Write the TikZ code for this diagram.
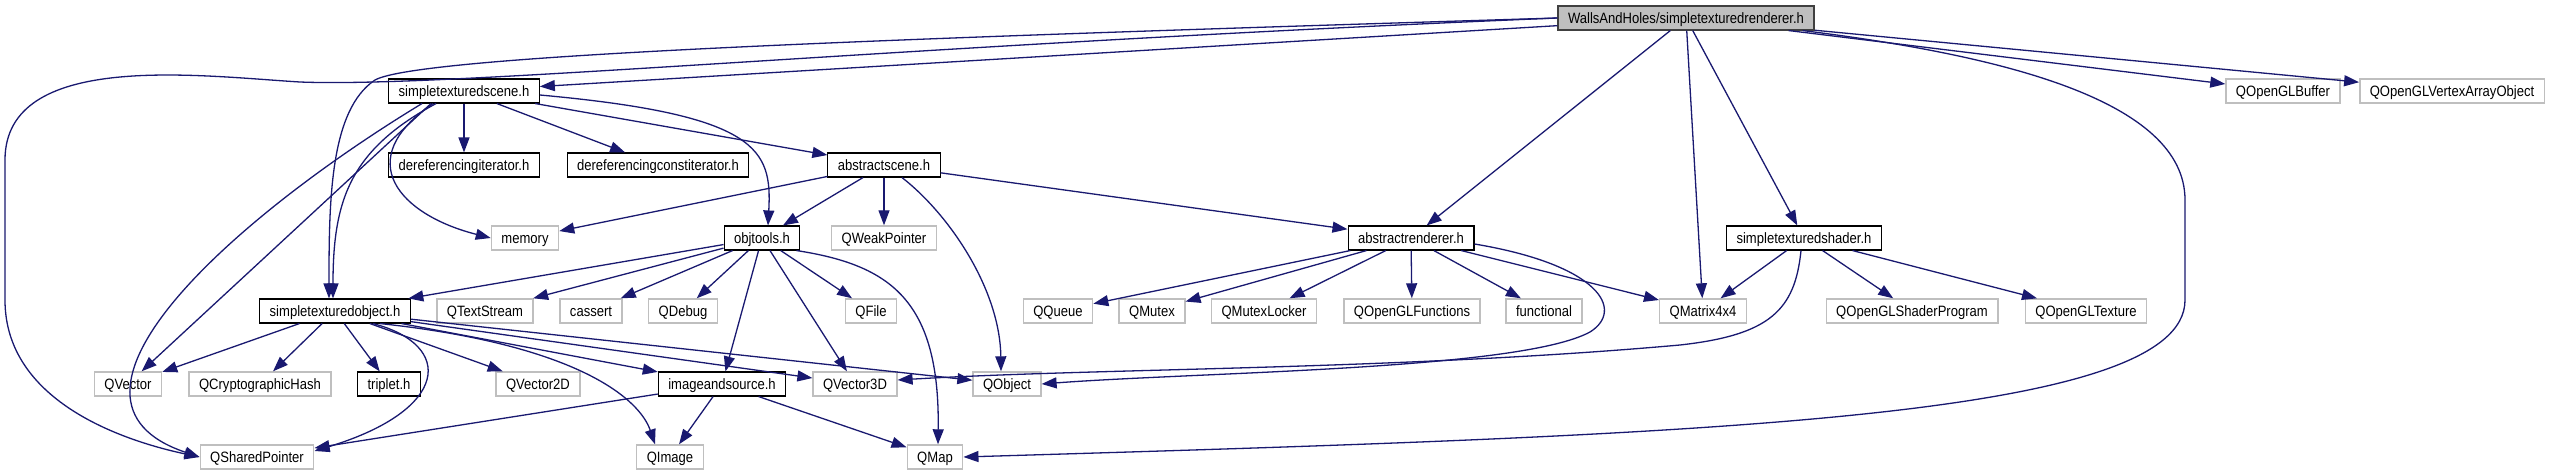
\documentclass[tikz,border=0pt]{standalone}
\usepackage{fontspec}
\newfontfamily\dotfont{Liberation Sans}[FakeStretch=0.87]
\usetikzlibrary{arrows.meta}
\definecolor{edgeblue}{RGB}{25,25,112}
\definecolor{boxgray}{RGB}{191,191,191}
\definecolor{rootline}{RGB}{64,64,64}

\begin{document}
\begin{tikzpicture}[x=1pt,y=-1pt,
	box/.style={rectangle,draw,line width=1.1pt,minimum height=24pt,inner xsep=10pt,inner ysep=0pt,
		text height=12.5pt,text depth=1.6pt,font={\dotfont\fontsize{15}{17}\selectfont}},
	doc/.style={box,draw=black},
	ext/.style={box,draw=boxgray,line width=1.4pt},
	rootbox/.style={box,draw=rootline,fill=boxgray},
	edge/.style={color=edgeblue,line width=1.3pt,-{Triangle[length=15pt,width=11pt]}}]
	\path[use as bounding box,fill=white] (0,0) rectangle (2560,476);
	% files of the project
	\node[rootbox] (root) at (1686,18) {WallsAndHoles/simpletexturedrenderer.h};
	\node[doc] (scene)    at (464,91)  {simpletexturedscene.h};
	\node[doc] (derefit)  at (464,165) {dereferencingiterator.h};
	\node[doc] (derefcit) at (658,165) {dereferencingconstiterator.h};
	\node[doc] (absscene) at (884,165) {abstractscene.h};
	\node[doc] (objtools) at (762,238) {objtools.h};
	\node[doc] (absrend)  at (1411,238) {abstractrenderer.h};
	\node[doc] (shader)   at (1804,238) {simpletexturedshader.h};
	\node[doc] (texobj)   at (335,311) {simpletexturedobject.h};
	\node[doc] (triplet)  at (389,384) {triplet.h};
	\node[doc] (imgsrc)   at (722,384) {imageandsource.h};
	% outside headers
	\node[ext] (qglbuffer)    at (2283,91)  {QOpenGLBuffer};
	\node[ext] (qglvao)       at (2452,91)  {QOpenGLVertexArrayObject};
	\node[ext] (memory)       at (525,238)  {memory};
	\node[ext] (qweakptr)     at (884,238)  {QWeakPointer};
	\node[ext] (qtextstream)  at (485,311)  {QTextStream};
	\node[ext] (cassert)      at (591,311)  {cassert};
	\node[ext] (qdebug)       at (683,311)  {QDebug};
	\node[ext] (qfile)        at (871,311)  {QFile};
	\node[ext] (qqueue)       at (1058,311) {QQueue};
	\node[ext] (qmutex)       at (1152,311) {QMutex};
	\node[ext] (qmutexlocker) at (1264,311) {QMutexLocker};
	\node[ext] (qglfuncs)     at (1412,311) {QOpenGLFunctions};
	\node[ext] (functional)   at (1544,311) {functional};
	\node[ext] (qmatrix)      at (1703,311) {QMatrix4x4};
	\node[ext] (qshaderprog)  at (1912,311) {QOpenGLShaderProgram};
	\node[ext] (qgltexture)   at (2086,311) {QOpenGLTexture};
	\node[ext] (qvector)      at (128,384)  {QVector};
	\node[ext] (qcrypto)      at (260,384)  {QCryptographicHash};
	\node[ext] (qvector2d)    at (538,384)  {QVector2D};
	\node[ext] (qvector3d)    at (855,384)  {QVector3D};
	\node[ext] (qobject)      at (1007,384) {QObject};
	\node[ext] (qsharedptr)   at (257,457)  {QSharedPointer};
	\node[ext] (qimage)       at (670,457)  {QImage};
	\node[ext] (qmap)         at (935,457)  {QMap};
	% includes of simpletexturedrenderer.h
	\draw[edge] (root) -- (scene);
	\draw[edge] (root.west) .. controls (900,38) and (420,55) .. (375,80) .. controls (330,110) and (329,200) .. ([xshift=-6pt]texobj.north);
	\draw[edge] (root.west) .. controls (900,45) and (450,88) .. (300,82) .. controls (200,76) and (5,50) .. (5,160) -- (5,300) .. controls (5,400) and (120,440) .. (qsharedptr.west);
	\draw[edge] (root) -- (absrend);
	\draw[edge] (root) -- (qmatrix);
	\draw[edge] (root) -- (shader);
	\draw[edge] ([xshift=-12pt]root.south east) .. controls (2000,55) and (2185,100) .. (2185,200) -- (2185,300) .. controls (2185,420) and (1700,435) .. (qmap.east);
	\draw[edge] (root) -- (qglbuffer);
	\draw[edge] (root) -- (qglvao);
	% simpletexturedscene.h
	\draw[edge] (scene) -- (derefit);
	\draw[edge] (scene) -- (derefcit);
	\draw[edge] (scene) -- (absscene);
	\draw[edge] ([yshift=-4pt]scene.east) .. controls (760,115) and (772,150) .. ([xshift=6pt]objtools.north);
	\draw[edge] ([xshift=-31pt]scene.south) .. controls (350,160) and (400,215) .. (memory.west);
	\draw[edge] ([xshift=-28pt]scene.south) .. controls (350,150) and (333,200) .. ([xshift=-2pt]texobj.north);
	\draw[edge] ([xshift=-33pt]scene.south) -- (qvector);
	\draw[edge] ([xshift=-42pt]scene.south) .. controls (230,220) and (30,400) .. (qsharedptr.west);
	% abstractscene.h
	\draw[edge] (absscene) -- (memory);
	\draw[edge] (absscene) -- (objtools);
	\draw[edge] (absscene) -- (qweakptr);
	\draw[edge] ([xshift=18pt]absscene.south) .. controls (950,215) and (1000,290) .. ([xshift=-6pt]qobject.north);
	\draw[edge] (absscene) -- (absrend);
	% objtools.h
	\draw[edge] (objtools) -- (texobj);
	\draw[edge] (objtools) -- (qtextstream);
	\draw[edge] (objtools) -- (cassert);
	\draw[edge] (objtools) -- (qdebug);
	\draw[edge] (objtools) -- (imgsrc);
	\draw[edge] (objtools) -- (qvector3d);
	\draw[edge] (objtools) -- (qfile);
	\draw[edge] ([xshift=-4pt]objtools.south east) .. controls (890,265) and (940,300) .. ([xshift=3pt]qmap.north);
	% abstractrenderer.h
	\draw[edge] (absrend) -- (qqueue);
	\draw[edge] (absrend) -- (qmutex);
	\draw[edge] (absrend) -- (qmutexlocker);
	\draw[edge] (absrend) -- (qglfuncs);
	\draw[edge] (absrend) -- (functional);
	\draw[edge] (absrend) -- (qmatrix);
	\draw[edge] ([yshift=-6pt]absrend.east) .. controls (1600,265) and (1625,310) .. (1590,332) .. controls (1520,370) and (1200,372) .. (qobject.east);
	% simpletexturedshader.h
	\draw[edge] (shader) -- (qmatrix);
	\draw[edge] (shader) -- (qshaderprog);
	\draw[edge] (shader) -- (qgltexture);
	\draw[edge] ([xshift=-3pt]shader.south) .. controls (1795,310) and (1770,335) .. (1680,345) .. controls (1400,370) and (1100,368) .. ([yshift=4pt]qvector3d.east);
	% simpletexturedobject.h
	\draw[edge] (texobj) -- (qvector);
	\draw[edge] (texobj) -- (qcrypto);
	\draw[edge] (texobj) -- (triplet);
	\draw[edge] (texobj) -- (qvector2d);
	\draw[edge] ([xshift=38pt]texobj.south) .. controls (455,345) and (450,410) .. ([yshift=6pt]qsharedptr.east);
	\draw[edge] ([xshift=45pt]texobj.south) .. controls (580,345) and (640,400) .. ([xshift=-15pt]qimage.north);
	\draw[edge] (texobj) -- (imgsrc);
	\draw[edge] (texobj) -- (qvector3d);
	\draw[edge] (texobj) -- (qobject);
	% imageandsource.h
	\draw[edge] (imgsrc) -- (qsharedptr);
	\draw[edge] (imgsrc) -- (qimage);
	\draw[edge] (imgsrc) -- (qmap);
\end{tikzpicture}
\end{document}
